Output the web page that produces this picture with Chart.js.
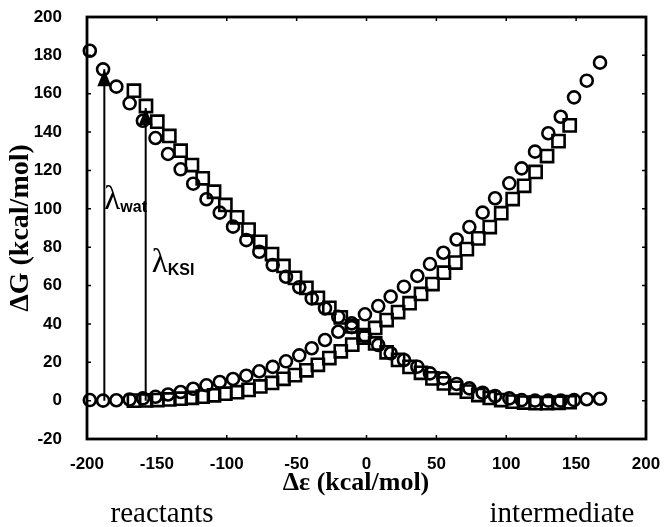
<!DOCTYPE html>
<html>
<head>
<meta charset="utf-8">
<script src="https://cdn.jsdelivr.net/npm/chart.js@4/dist/chart.umd.min.js"></script>
<style>
  html, body { margin: 0; padding: 0; background: #fff; }
  #box { width: 664px; height: 527px; }
</style>
</head>
<body>
<div id="box"><canvas id="c" width="664" height="527"></canvas></div>
<script>
// Energy gap (kcal/mol) sampled for the water curves
const watGap = [-198, -188.5, -179, -169.5, -160, -151, -142, -133, -124, -114.5,
  -105, -95.5, -86, -76.7, -67.1, -57.6, -48.1, -39.2, -29.7, -20.2,
  -10.6, -1.1, 8.4, 17.3, 26.8, 36.4, 45.4, 55, 64.5, 73.6,
  83.1, 92, 102.2, 111, 120.6, 130.1, 139, 148.5, 157.6, 167.1];
// Free energy of the reactant state in water
const watReactant = [0.3, 0, 0.2, 0.6, 1.2, 2, 3.2, 4.5, 6.2, 8,
  9.7, 11.3, 13, 15.3, 17.6, 20.5, 23.6, 27.3, 31.6, 35.9,
  40.3, 45, 49.3, 54.2, 59.4, 65, 71.2, 77.1, 84, 90.5,
  98, 105.5, 113.3, 121.1, 129.8, 139.4, 148, 158.1, 166.8, 176.2];
// Free energy of the intermediate state in water
const watIntermediate = [182.4, 172.7, 163.7, 155, 145.9, 136.9, 128.6, 120.6, 113.1, 105,
  98, 90.7, 83.7, 77.6, 70.7, 64.6, 59.1, 53.3, 48.1, 43.7,
  38.3, 33.8, 29, 24.7, 21.2, 17.7, 14.2, 11.6, 8.7, 6.4,
  4.1, 2.4, 1.2, 0.3, 0, 0, 0, 0.3, 0.7, 1];

// Energy gap (kcal/mol) sampled for the enzyme (KSI) curves
const ksiGap = [-166.4, -157.8, -149.7, -141.1, -133, -124.9, -117.2, -109.1, -101, -92.6,
  -84.4, -76, -67.6, -59.4, -51.2, -43, -34.8, -26.6, -18.4, -10.2,
  -2, 6.2, 14.4, 22.6, 30.8, 39, 47.2, 55.4, 63.6, 71.8,
  80, 88.2, 96.4, 104.6, 112.8, 121, 129.2, 137.4, 145.4];
const ksiReactant = [0, 0.1, 0.3, 0.6, 1, 1.5, 2.1, 2.8, 3.6, 4.4,
  5.6, 7.4, 9.2, 11.4, 13.3, 15.8, 18.7, 22.2, 25.7, 29.2,
  32.8, 37.9, 42, 46.2, 50.8, 55.6, 60.8, 66.7, 72, 79,
  84.6, 90.5, 97.7, 105.1, 112, 119.2, 127.5, 135.3, 143.5];
const ksiIntermediate = [161.6, 153.6, 145.4, 138, 130.3, 122.8, 115.9, 108.9, 102, 95.6,
  89.2, 82.8, 76.4, 70.2, 64, 58.8, 53.6, 48.4, 43.4, 38.7,
  34.2, 29.8, 25.2, 21.2, 17.6, 14.5, 11.6, 9, 6.7, 4.7,
  2.9, 1.4, 0.3, -0.5, -1, -1.3, -1.3, -1.1, -0.8];

// Reorganization energies marked with arrows: [gap, foot, head]
const lambdaWat = [-187.6, 0, 172.7];
const lambdaKsi = [-158, 0, 152.6];

// Axis tick values
const xTickValues = [-200, -150, -100, -50, 0, 50, 100, 150, 200];
const yTickValues = [-20, 0, 20, 40, 60, 80, 100, 120, 140, 160, 180, 200];

const pairs = (xs, ys) => xs.map((v, i) => ({ x: v, y: ys[i] }));

const circleStyle = {
  pointStyle: 'circle', pointRadius: 6, pointBorderWidth: 2.6,
  pointBorderColor: '#000', pointBackgroundColor: 'rgba(0,0,0,0)',
  showLine: false, clip: false
};
const squareStyle = {
  pointStyle: 'rect', pointRadius: 8.6, pointBorderWidth: 2.6,
  pointBorderColor: '#000', pointBackgroundColor: 'rgba(0,0,0,0)',
  showLine: false, clip: false
};
const arrowStyle = {
  type: 'line', borderColor: '#000', borderWidth: 2, pointRadius: 0,
  showLine: true, fill: false, clip: false
};

// Frame, inward tick marks, arrowheads and annotation text
const decor = {
  id: 'decor',
  afterDatasetsDraw(chart) {
    const { ctx, chartArea: a, scales: { x, y } } = chart;
    ctx.save();
    ctx.strokeStyle = '#000';
    ctx.fillStyle = '#000';

    ctx.lineWidth = 1.5;
    ctx.beginPath();
    x.ticks.forEach(t => {
      const px = x.getPixelForValue(t.value);
      ctx.moveTo(px, a.bottom); ctx.lineTo(px, a.bottom - 4);
      ctx.moveTo(px, a.top); ctx.lineTo(px, a.top + 4);
    });
    y.ticks.forEach(t => {
      const py = y.getPixelForValue(t.value);
      ctx.moveTo(a.left, py); ctx.lineTo(a.left + 4, py);
      ctx.moveTo(a.right, py); ctx.lineTo(a.right - 4, py);
    });
    ctx.stroke();

    ctx.lineWidth = 2.8;
    ctx.strokeRect(a.left, a.top, a.right - a.left, a.bottom - a.top);

    // arrowheads at the upper end of each lambda arrow
    [4, 5].forEach(i => {
      const pts = chart.getDatasetMeta(i).data;
      const tip = pts[pts.length - 1];
      ctx.beginPath();
      ctx.moveTo(tip.x, tip.y);
      ctx.lineTo(tip.x - 7, tip.y + 17);
      ctx.lineTo(tip.x + 7, tip.y + 17);
      ctx.closePath();
      ctx.fill();
    });

    // lambda labels
    const lam = (gap, gval, dx, sub) => {
      const px = x.getPixelForValue(gap) + dx;
      const py = y.getPixelForValue(gval);
      ctx.font = '33px "Liberation Serif", "Times New Roman", serif';
      ctx.textAlign = 'left';
      ctx.textBaseline = 'alphabetic';
      ctx.fillText('λ', px, py);
      const w = ctx.measureText('λ').width;
      ctx.font = 'bold 16px "Liberation Sans", Arial, sans-serif';
      ctx.fillText(sub, px + w, py + 3);
    };
    lam(lambdaWat[0], 100, 0, 'wat');
    lam(lambdaKsi[0], 67, 6, 'KSI');

    // axis titles
    ctx.textAlign = 'center';
    ctx.textBaseline = 'middle';
    ctx.font = 'bold 26px "Liberation Serif", "Times New Roman", serif';
    ctx.fillText('Δε (kcal/mol)', 356, 483);
    ctx.font = 'bold 28px "Liberation Serif", "Times New Roman", serif';
    ctx.save();
    ctx.translate(21, (a.top + a.bottom) / 2);
    ctx.rotate(-Math.PI / 2);
    ctx.fillText('ΔG (kcal/mol)', 0, 0);
    ctx.restore();

    // state names under the axis
    ctx.font = '29px "Liberation Serif", "Times New Roman", serif';
    ctx.textBaseline = 'alphabetic';
    ctx.fillText('reactants', 162, 522);
    ctx.fillText('intermediate', 562, 522);
    ctx.restore();
  }
};

const tickFont = { family: '"Liberation Sans", Arial, sans-serif', size: 17, weight: 'bold' };

new Chart(document.getElementById('c'), {
  type: 'scatter',
  data: {
    datasets: [
      { label: 'wat reactant', data: pairs(watGap, watReactant), ...circleStyle },
      { label: 'wat intermediate', data: pairs(watGap, watIntermediate), ...circleStyle },
      { label: 'KSI reactant', data: pairs(ksiGap, ksiReactant), ...squareStyle },
      { label: 'KSI intermediate', data: pairs(ksiGap, ksiIntermediate), ...squareStyle },
      { label: 'lambda wat', data: [{ x: lambdaWat[0], y: lambdaWat[1] }, { x: lambdaWat[0], y: lambdaWat[2] }], ...arrowStyle },
      { label: 'lambda KSI', data: [{ x: lambdaKsi[0], y: lambdaKsi[1] }, { x: lambdaKsi[0], y: lambdaKsi[2] }], ...arrowStyle }
    ]
  },
  options: {
    responsive: false,
    animation: false,
    devicePixelRatio: 1,
    layout: { padding: { top: 17, right: 18, left: 0, bottom: 0 } },
    plugins: { legend: { display: false }, tooltip: { enabled: false } },
    scales: {
      x: {
        type: 'linear', min: -200, max: 200,
        afterBuildTicks: s => { s.ticks = xTickValues.map(v => ({ value: v })); },
        afterFit: s => { s.height = 88; s.paddingLeft = 0; s.paddingRight = 0; },
        grid: { display: false }, border: { display: false },
        ticks: { font: tickFont, color: '#000', padding: 7, maxRotation: 0 }
      },
      y: {
        type: 'linear', min: -20, max: 200,
        afterBuildTicks: s => { s.ticks = yTickValues.map(v => ({ value: v })); },
        afterFit: s => { s.width = 87; s.paddingTop = 0; s.paddingBottom = 0; },
        grid: { display: false }, border: { display: false },
        ticks: { font: tickFont, color: '#000', padding: 17 }
      }
    }
  },
  plugins: [decor]
});
</script>
</body>
</html>
